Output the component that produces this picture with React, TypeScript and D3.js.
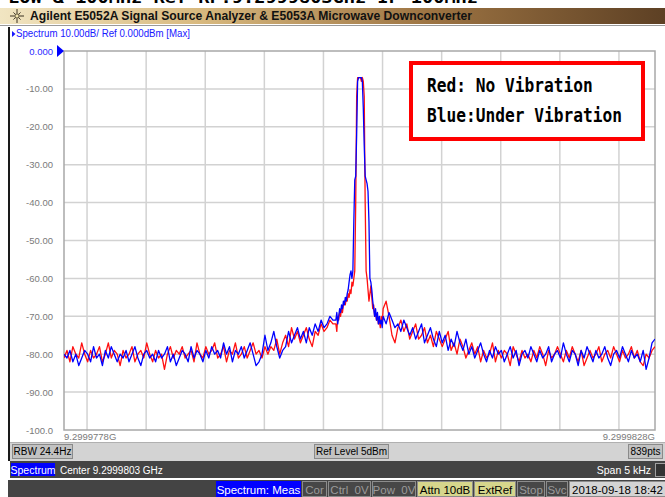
import React from "react";
import * as d3 from "d3";

// ---- axis / tick data ----
const yTickValues = [0, -10, -20, -30, -40, -50, -60, -70, -80, -90, -100];
const yTickLabels = ["0.000", "-10.00", "-20.00", "-30.00", "-40.00", "-50.00", "-60.00", "-70.00", "-80.00", "-90.00", "-100.0"];
const gridFreqs = [195, 695, 1195, 1695, 2195, 2695, 3195, 3695, 4195, 4695]; // Hz from start
const startLabel = "9.2999778G";
const stopLabel = "9.2999828G";

// sweep grid (Hz from start frequency)
const freqLeft = d3.range(0, 2300, 25);
const freqPeak = d3.range(2300, 2700, 8);
const freqRight = d3.range(2700, 5001, 25);

// ---- trace values (dBm) ----
const blueLeft = [
  -80, -81, -79, -82, -80, -83, -81, -79, -80, -82,
  -78, -81, -80, -83, -79, -81, -78, -80, -82, -80,
  -81, -79, -82, -80, -78, -81, -83, -80, -79, -81,
  -80, -82, -79, -81, -80, -78, -82, -80, -83, -81,
  -79, -80, -82, -78, -81, -79, -80, -82, -79, -81,
  -78, -80, -79, -81, -77, -80, -78, -82, -79, -80,
  -78, -81, -79, -77, -80, -83, -82, -80, -75, -79,
  -77, -74, -78, -81, -79, -78, -74, -77, -75, -73,
  -76, -74, -77, -73, -75, -72, -74, -71, -73, -72, -70, -71,
];
const bluePeak = [
  -71, -69, -72, -70, -68, -69, -67, -68, -66, -67,
  -65, -66, -64, -63, -61, -59, -58, -60, -58, -45,
  -34, -33, -22, -8, -7, -7, -7, -7, -8, -15,
  -25, -33, -34, -35, -37, -45, -60, -61, -63, -66,
  -68, -70, -68, -71, -69, -72, -70, -72, -71, -73,
];
const blueRight = [
  -70, -72, -69, -71, -73, -72, -74, -71, -73, -75,
  -73, -76, -74, -72, -77, -75, -73, -76, -78, -74,
  -77, -75, -79, -76, -78, -74, -77, -79, -76, -80,
  -78, -81, -79, -77, -80, -82, -79, -81, -78, -80,
  -79, -82, -80, -78, -81, -79, -83, -80, -79, -81,
  -78, -80, -82, -79, -81, -80, -78, -82, -80, -79,
  -81, -77, -80, -82, -79, -80, -83, -79, -81, -78,
  -80, -82, -79, -81, -80, -78, -81, -83, -80, -79,
  -81, -78, -80, -82, -79, -81, -80, -82, -79, -84, -81, -77, -76,
];
const redLeft = [
  -81, -79, -82, -78, -80, -81, -77, -80, -82, -79,
  -81, -80, -78, -82, -80, -77, -81, -79, -80, -83,
  -79, -81, -80, -78, -82, -80, -79, -81, -77, -80,
  -82, -79, -81, -80, -84, -80, -78, -81, -79, -80,
  -78, -81, -80, -79, -82, -77, -80, -81, -78, -80,
  -79, -77, -81, -80, -78, -82, -79, -80, -77, -81,
  -80, -78, -81, -79, -77, -80, -79, -81, -78, -80,
  -78, -79, -76, -80, -77, -75, -78, -73, -76, -74,
  -77, -75, -73, -76, -78, -74, -75, -72, -74, -73, -71, -72,
];
const redPeak = [
  -72, -74, -70, -71, -69, -70, -68, -69, -67, -66,
  -67, -65, -66, -64, -65, -63, -64, -61, -62, -60,
  -58, -40, -12, -7, -7, -7, -7, -8, -7, -8,
  -12, -40, -58, -60, -63, -66, -64, -62, -65, -68,
  -67, -70, -69, -71, -70, -72, -71, -73, -70, -72,
];
const redRight = [
  -68, -66, -70, -75, -77, -73, -71, -74, -72, -76,
  -74, -72, -76, -75, -73, -77, -75, -78, -74, -76,
  -78, -76, -74, -79, -77, -80, -76, -78, -81, -79,
  -77, -80, -78, -82, -79, -81, -80, -77, -82, -79,
  -81, -79, -80, -83, -78, -80, -82, -79, -81, -80,
  -82, -79, -81, -78, -80, -83, -79, -81, -80, -78,
  -80, -82, -79, -81, -78, -80, -82, -79, -83, -81,
  -79, -81, -80, -78, -82, -80, -79, -81, -78, -80,
  -82, -79, -81, -80, -78, -81, -79, -82, -83, -80, -81, -79, -78,
];

const legendLines = ["Red: No Vibration", "Blue:Under Vibration"];

const statusBoxes = [
  { label: "Spectrum: Meas", x: 216.5, w: 84, kind: "blue" },
  { label: "Cor", x: 302.5, w: 24, kind: "off" },
  { label: "Ctrl  0V", x: 328.5, w: 42, kind: "off" },
  { label: "Pow  0V", x: 372.5, w: 43, kind: "off" },
  { label: "Attn 10dB", x: 417.5, w: 55, kind: "on" },
  { label: "ExtRef", x: 474.5, w: 41, kind: "on" },
  { label: "Stop", x: 517.5, w: 27, kind: "off" },
  { label: "Svc", x: 546.5, w: 21, kind: "off" },
  { label: "2018-09-18 18:42", x: 569.5, w: 96, kind: "date" },
];

function zipTrace(fs: number[][], vs: number[][]) {
  const out: { f: number; v: number }[] = [];
  fs.forEach((arr, k) => arr.forEach((f, i) => out.push({ f, v: vs[k][i] })));
  return out;
}

export default function App() {
  const W = 665, H = 497;
  const plot = { l: 64, r: 655, t: 51, b: 430 };
  const x = d3.scaleLinear().domain([0, 5000]).range([plot.l, plot.r]);
  const y = d3.scaleLinear().domain([-100, 0]).range([plot.b, plot.t]);

  const blue = zipTrace([freqLeft, freqPeak, freqRight], [blueLeft, bluePeak, blueRight]);
  const red = zipTrace([freqLeft, freqPeak, freqRight], [redLeft, redPeak, redRight]);
  const line = d3.line<{ f: number; v: number }>().x((d) => x(d.f)).y((d) => y(d.v));

  const font = "'Liberation Sans', Arial, sans-serif";
  const sunSpokes = d3.range(8).map((i) => (i * Math.PI) / 4);

  return (
    <svg width={W} height={H} style={{ position: "absolute", left: 0, top: 0, background: "#fff" }} fontFamily={font}>
      <defs>
        <linearGradient id="hdr" x1="0" x2="1" y1="0" y2="0">
          <stop offset="0%" stopColor="#f1e5c2" />
          <stop offset="30%" stopColor="#d8b97f" />
          <stop offset="65%" stopColor="#9c7342" />
          <stop offset="100%" stopColor="#5d4024" />
        </linearGradient>
        <clipPath id="plotclip">
          <rect x={plot.l} y={plot.t - 2} width={plot.r - plot.l} height={plot.b - plot.t + 2} />
        </clipPath>
      </defs>
      <rect x={0} y={0} width={W} height={H} fill="#fff" />

      {/* cut off top line */}
      <text x={8} y={3} fontFamily="'DejaVu Sans Mono', monospace" fontWeight="bold" fontSize={16} fill="#000" textLength={470} lengthAdjust="spacingAndGlyphs">
        LOW &amp; 100MHz  Ref    RF:9.2999803GHz  IF 100MHz
      </text>

      {/* header bar */}
      <rect x={0} y={8} width={W} height={16} fill="url(#hdr)" />
      <line x1={0} x2={W} y1={25.5} y2={25.5} stroke="#9a9a9a" />
      <g stroke="#3a3020" strokeWidth={1}>
        {sunSpokes.map((a, i) => (
          <line key={i} x1={17 + Math.cos(a) * 3} y1={16 + Math.sin(a) * 3} x2={17 + Math.cos(a) * (i % 2 ? 5 : 7)} y2={16 + Math.sin(a) * (i % 2 ? 5 : 7)} />
        ))}
        <circle cx={17} cy={16} r={2.2} fill="#f5e7b0" />
      </g>
      <text x={30} y={20} fontSize={12} fontWeight="bold" fill="#111" textLength={442} lengthAdjust="spacingAndGlyphs">
        Agilent E5052A Signal Source Analyzer &amp; E5053A Microwave Downconverter
      </text>

      {/* left window border */}
      <rect x={8} y={27} width={2} height={434} fill="#1a1a1a" />

      {/* spectrum title */}
      <path d="M12,31 L15.5,34 L12,37 Z" fill="#1818ff" />
      <text x={16} y={37} fontSize={10} fill="#1818ff" textLength={174} lengthAdjust="spacingAndGlyphs">
        Spectrum 10.00dB/ Ref 0.000dBm [Max]
      </text>

      {/* grid */}
      <g stroke="#d2d2d2" strokeWidth={1.5}>
        {yTickValues.filter((v) => v < 0 && v > -100).map((v) => (
          <line key={v} x1={plot.l} x2={plot.r} y1={y(v)} y2={y(v)} />
        ))}
        {gridFreqs.map((f) => (
          <line key={f} x1={x(f)} x2={x(f)} y1={plot.t} y2={plot.b} />
        ))}
      </g>
      <rect x={plot.l} y={plot.t} width={plot.r - plot.l} height={plot.b - plot.t} fill="none" stroke="#a8a8a8" strokeWidth={1.5} />

      {/* y labels */}
      {yTickValues.map((v, i) => (
        <text key={v} x={53} y={y(v) + 3.5} fontSize={9.5} textAnchor="end" fill={i === 0 ? "#2a2aff" : "#7a7a7a"}>
          {yTickLabels[i]}
        </text>
      ))}
      <path d={`M57,${plot.t - 6} L64,${plot.t} L57,${plot.t + 6} Z`} fill="#0000ff" />

      {/* x labels */}
      <text x={plot.l} y={440} fontSize={9.5} fill="#7a7a7a">{startLabel}</text>
      <text x={plot.r} y={440} fontSize={9.5} fill="#7a7a7a" textAnchor="end">{stopLabel}</text>

      {/* traces */}
      <g clipPath="url(#plotclip)" fill="none" strokeWidth={1.3} strokeLinejoin="round">
        <path d={line(red) || ""} stroke="#ff1010" />
        <path d={line(blue) || ""} stroke="#0000ff" />
      </g>

      {/* legend */}
      <rect x={411} y={63} width={232} height={76} fill="#fff" stroke="#ff0000" strokeWidth={4} />
      {legendLines.map((t, i) => (
        <text key={t} transform={`translate(427,${92.3 + i * 29.5}) scale(1,1.18)`} fontFamily="'DejaVu Sans Mono', monospace" fontWeight="bold" fontSize={16.2} fill="#000">
          {t}
        </text>
      ))}

      {/* grey info bar */}
      <rect x={10} y={442} width={655} height={19} fill="#d3d3d3" />
      <line x1={10} x2={665} y1={442.5} y2={442.5} stroke="#b0b0b0" />
      {[
        { t: "RBW 24.4Hz", x: 12.5, w: 60 },
        { t: "Ref Level 5dBm", x: 314.5, w: 74 },
        { t: "839pts", x: 628.5, w: 34 },
      ].map((b) => (
        <g key={b.t}>
          <rect x={b.x} y={444.5} width={b.w} height={14} fill="#c2c2c2" stroke="#8a8a8a" />
          <text x={b.x + b.w / 2} y={455} fontSize={10} textAnchor="middle" fill="#000">{b.t}</text>
        </g>
      ))}

      {/* dark info bar */}
      <rect x={10} y={461} width={655} height={17} fill="#444444" />
      <rect x={11} y={463} width={44} height={13} fill="#0000ff" />
      <text x={33} y={473.5} fontSize={10.5} textAnchor="middle" fill="#fff">Spectrum</text>
      <text x={60} y={473.5} fontSize={10} fill="#fff">Center 9.2999803 GHz</text>
      <text x={651} y={473.5} fontSize={10.5} fill="#fff" textAnchor="end">Span 5 kHz</text>
      <rect x={655.5} y={463.5} width={10} height={13} fill="#333" stroke="#a0a0a0" />

      {/* status bar */}
      <rect x={8} y={480} width={657} height={17} fill="#444444" />
      {statusBoxes.map((b) => {
        const fill = b.kind === "blue" ? "#0000ff" : b.kind === "on" ? "#d6d68c" : b.kind === "date" ? "#d4d4d4" : "#474747";
        const stroke = b.kind === "blue" ? "#0000ff" : "#8c8c8c";
        const tc = b.kind === "blue" ? "#fff" : b.kind === "off" ? "#9a9a9a" : "#000";
        return (
          <g key={b.label}>
            <rect x={b.x} y={481.5} width={b.w} height={15} fill={fill} stroke={stroke} />
            <text x={b.x + b.w / 2} y={493.5} fontSize={11.5} textAnchor="middle" fill={tc} style={{ whiteSpace: "pre" }}>
              {b.label}
            </text>
          </g>
        );
      })}
    </svg>
  );
}
